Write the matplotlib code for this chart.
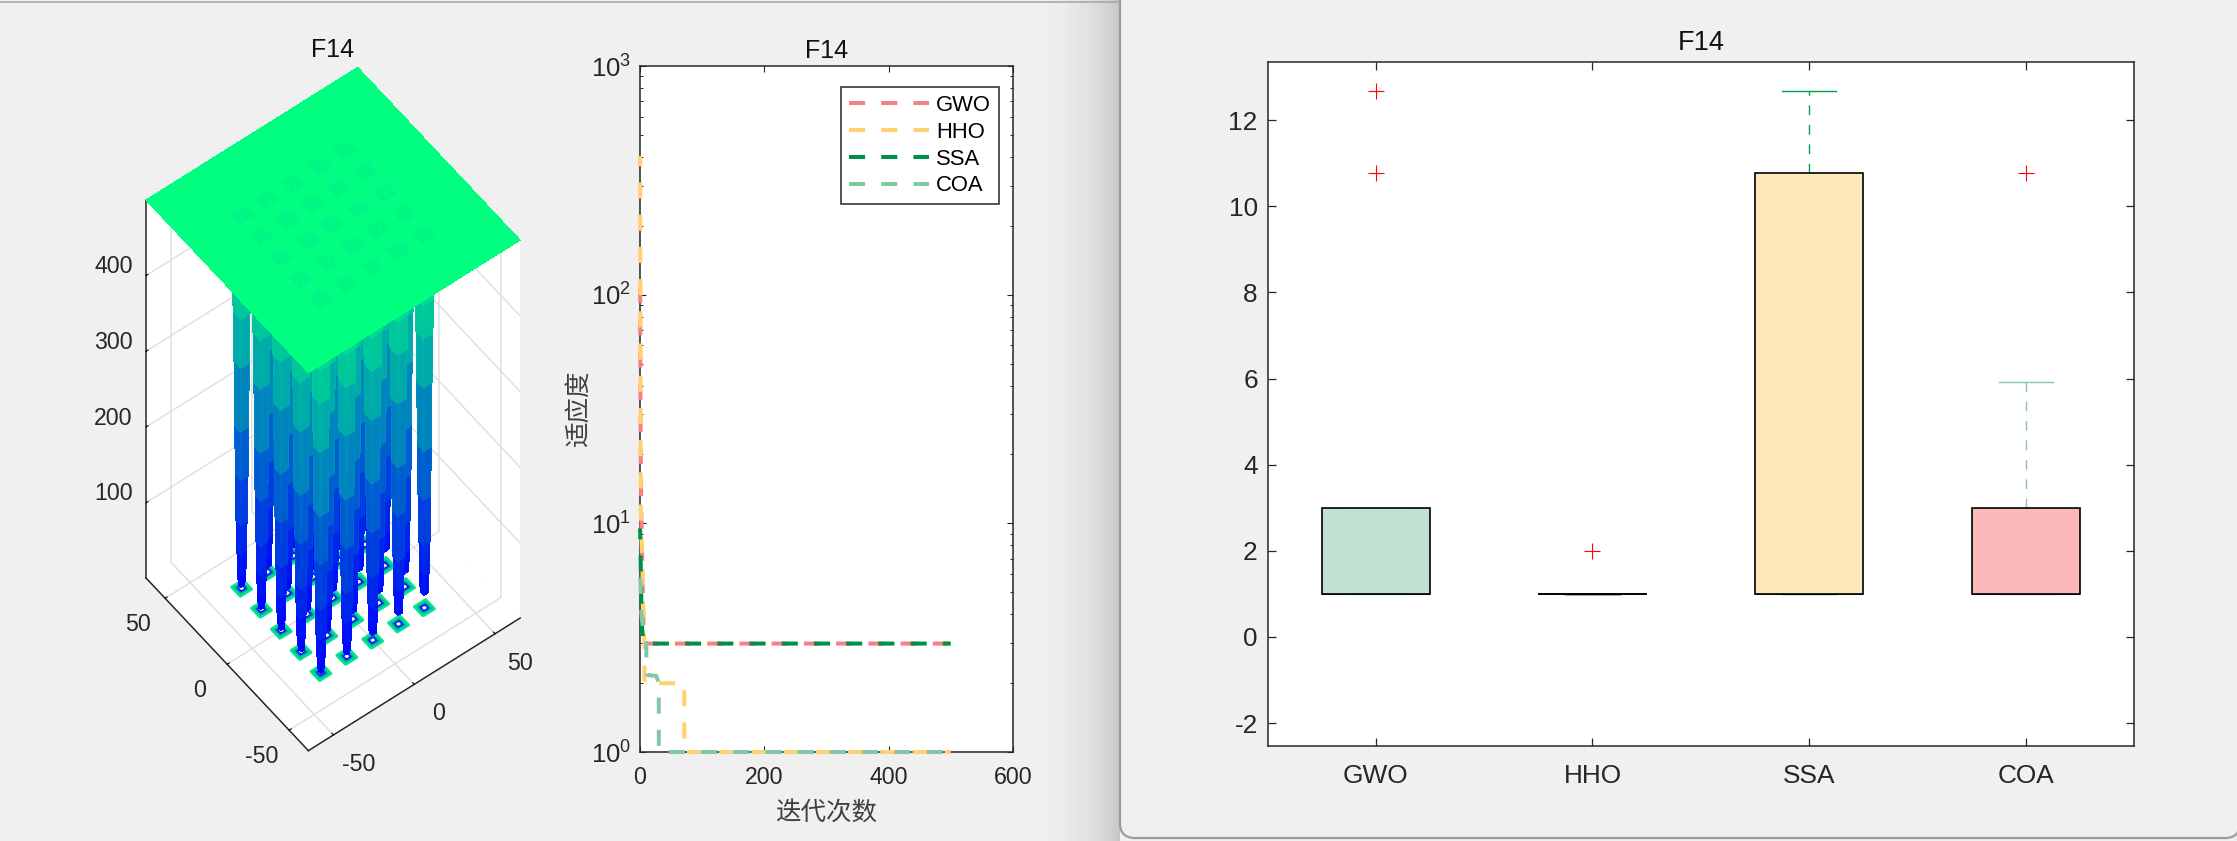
import numpy as np
import matplotlib
matplotlib.use('Agg')
import matplotlib.pyplot as plt
from matplotlib.patches import FancyBboxPatch
from mpl_toolkits.mplot3d import proj3d

plt.rcParams['font.family'] = ['Liberation Sans', 'Noto Sans CJK SC', 'DejaVu Sans']
plt.rcParams['mathtext.default'] = 'regular'
plt.rcParams['mathtext.fontset'] = 'custom'
plt.rcParams['mathtext.rm'] = 'Liberation Sans'
plt.rcParams['axes.unicode_minus'] = False

W, H = 2237, 841
DARK = '#262626'
BG = '#f0f0f0'

well_centres = [-32, -16, 0, 16, 32]
well_offsets = [0, 0.5, 1, 1.25, 1.5, 1.75, 2, 2.25, 2.5, 2.75, 3, 3.25, 3.5, 4, 5, 6, 7]
well_heights = [1, 1.5, 4, 10, 22, 50, 90, 150, 215, 300, 365, 410, 440, 470, 492, 498, 499.5]
well_floor = [[1, 2, 3, 4, 5],
              [6, 7, 8, 9, 10],
              [11, 12, 13, 14, 15],
              [16, 17, 18, 19, 20],
              [21, 22, 23, 24, 25]]
plate_height = 500
surface_lim = 65.536
contour_levels = [26, 60, 100, 150, 200, 250, 300, 350, 400, 450]
xy_ticks = [-50, 0, 50]
z_ticks = [100, 200, 300, 400]

# convergence curves (iteration, fitness)
names = ['GWO', 'HHO', 'SSA', 'COA']
colors = ['#f98080', '#ffd26e', '#008f46', '#82c8a4']
gwo_it = [1, 1.5, 2, 3, 4, 5, 6, 7, 9, 500]
gwo_val = [120, 40, 20, 11, 8, 5.5, 4, 3.3, 2.98, 2.98]
hho_it = [1, 2, 3, 5, 6, 7, 8, 8, 72, 72, 500]
hho_val = [404, 12, 9, 6, 4.5, 3.3, 3, 2, 2, 1, 1]
ssa_it = [1, 2, 3, 4, 6, 8, 500]
ssa_val = [9.5, 6.5, 4.5, 3.5, 3.1, 2.98, 2.98]
coa_it = [1, 2, 3, 8, 11, 11, 13, 27, 31, 31, 500]
coa_val = [6, 5, 4, 3.1, 3, 2.4, 2.17, 2.15, 2, 1, 1]
dash_start_px = [675, 687, 685, 701]  # where a dash begins on each curve's last flat run

# box plot statistics
box_q1 = [1, 1, 1, 1]
box_med = [1, 1, 1, 1]
box_q3 = [3, 1, 10.76, 3]
box_lo = [1, 1, 1, 1]
box_hi = [3, 1, 12.67, 5.93]
box_out = [[10.76, 12.67], [2], [], [10.76]]
box_fill = ['#c0e2d1', 'none', '#fde8ba', '#fab8b9']
whisker_col = ['#c0e2d1', '#000000', '#00a050', '#82c8a4']


def px_rect(left, top, right, bottom):
    return [left / W, 1 - bottom / H, (right - left) / W, (bottom - top) / H]


def label3d(x, y, z, text, ha='center'):
    # 3D tick labels sit off the axis line, so project the spot and write the label on the figure
    px, py, _ = proj3d.proj_transform(x, y, z, ax3.get_proj())
    dx, dy = ax3.transData.transform((px, py))
    fig.text(dx / W, dy / H, text, fontsize=16.7, color=DARK, ha=ha, va='center')


fig = plt.figure(figsize=(W / 100, H / 100), dpi=100, facecolor=BG)

# window background
bg = fig.add_axes([0, 0, 1, 1], zorder=-5)
shade = np.interp(np.arange(1040, 1120), [1040, 1060, 1085, 1105, 1119], [240, 236, 226, 214, 198])
bg.imshow(shade[None, :], cmap='gray', vmin=0, vmax=255, aspect='auto', extent=(1040, 1120, H, 0), zorder=1)
bg.set_xlim(0, W)
bg.set_ylim(H, 0)
bg.axis('off')
bg.plot([0, 1120], [2, 2], color='#a8a8a8', lw=1.2, zorder=2)
bg.add_patch(FancyBboxPatch((1120, -60), W + 3 - 1120, 838 + 60, boxstyle='round,pad=0,rounding_size=15',
                            fc=BG, ec='#9c9c9c', lw=1.6, zorder=3))

# 3D surface
grid_lines = {-surface_lim, surface_lim}
for c in well_centres:
    for o in well_offsets:
        grid_lines.update([c - o, c + o])
for v in np.arange(-64, 65, 4):
    if min(abs(v - c) for c in well_centres) > max(well_offsets):
        grid_lines.add(float(v))
grid = np.array(sorted(grid_lines))
dist = np.abs(grid[:, None] - np.array(well_centres))
nearest = dist.min(axis=1)
which = dist.argmin(axis=1)
X, Y = np.meshgrid(grid, grid)
D = np.maximum(nearest[None, :], nearest[:, None])
Z = np.full(D.shape, float(plate_height))
for o, h in zip(well_offsets, well_heights):
    Z[np.isclose(D, o)] = h
floors = np.array(well_floor, dtype=float)[which[None, :].repeat(len(grid), 0), which[:, None].repeat(len(grid), 1)]
Z = np.where(D <= 1.5, np.maximum(Z, floors), Z)

ax3 = fig.add_axes(px_rect(-43.4, 52.4, 689.6, 785.4), projection='3d', computed_zorder=False)
ax3.patch.set_visible(False)
ax3.set_proj_type('ortho')
ax3.view_init(elev=54.7, azim=-127.5)
ax3.set_box_aspect((1, 1, 2.45))
ax3.set_xlim(-surface_lim, surface_lim)
ax3.set_ylim(-surface_lim, surface_lim)
ax3.set_zlim(1, plate_height)
cmap = plt.get_cmap('winter')
ax3.contour(X, Y, Z, levels=contour_levels, zdir='z', offset=1, cmap=cmap, vmin=1, vmax=plate_height,
            linewidths=1.6, zorder=1)
cell = (Z[:-1, :-1] + Z[1:, :-1] + Z[:-1, 1:] + Z[1:, 1:]) / 4
cell = np.pad(cell, ((0, 1), (0, 1)), mode='edge')
ax3.plot_surface(X, Y, Z, facecolors=cmap((cell - 1) / (plate_height - 1)), rstride=1, cstride=1,
                 linewidth=0, antialiased=False, shade=False, zorder=2)
ax3.set_xticks(xy_ticks)
ax3.set_yticks(xy_ticks)
ax3.set_zticks(z_ticks)
for a in (ax3.xaxis, ax3.yaxis, ax3.zaxis):
    a.set_pane_color((1, 1, 1, 1))
    a.pane.set_edgecolor('white')
    a.line.set_color(DARK)
    a.line.set_linewidth(1.1)
    a._axinfo['grid'].update(color='#dedede', linewidth=1.0)
    a._axinfo['tick'].update(inward_factor=0.0, outward_factor=0.12)
    a._axinfo['tick']['color'] = DARK
    a.set_tick_params(label1On=False, label2On=False)
    a.label.set_visible(False)
    a.offsetText.set_visible(False)
ax3.zaxis.set_ticks_position('upper')
fig.canvas.draw()
for v in xy_ticks:
    label3d(v, -surface_lim - 20, -3, str(v))
    label3d(-surface_lim - 17, v, -10.5, str(v))
for v in z_ticks:
    label3d(-surface_lim - 4.6, surface_lim + 4.6, v + 10, str(v), ha='right')
fig.text(333 / W, 1 - 50 / H, 'F14', fontsize=18, color='#111111', ha='center', va='center')

# convergence curves
ax = fig.add_axes(px_rect(639.5, 66, 1013, 752))
ax.set_yscale('log')
ax.set_xlim(0, 600)
ax.set_ylim(1, 1000)
series = [(gwo_it, gwo_val), (hho_it, hho_val), (ssa_it, ssa_val), (coa_it, coa_val)]
LW = 2.9
lines = []
for (it, val), name, col in zip(series, names, colors):
    line, = ax.plot(it, val, color=col, lw=LW, linestyle=(0, (4, 4)), dash_capstyle='butt', label=name,
                    clip_on=False, zorder=3)
    lines.append(line)
ax.set_xticks([0, 200, 400, 600])
ax.tick_params(which='major', direction='in', length=4.5, width=0.8, top=True, right=True,
               labelsize=16.7, labelcolor=DARK, color=DARK)
ax.tick_params(axis='x', pad=10)
ax.tick_params(axis='y', which='major', pad=6, labelsize=18.5)
ax.tick_params(which='minor', direction='in', length=2.5, width=0.7, right=True, color=DARK)
for s in ax.spines.values():
    s.set_color(DARK)
    s.set_linewidth(1.1)
ax.set_xlabel('迭代次数', fontsize=18.4, color='#404040', labelpad=9)
ax.set_ylabel('适应度', fontsize=18.4, color='#404040', labelpad=0)
ax.set_title('F14', fontsize=18, color='#111111', pad=5.5)
leg = ax.legend(loc='upper left', bbox_to_anchor=((841 - 639.5) / 373.5, 1 - (87 - 66) / 686), fontsize=15.8,
                frameon=True, fancybox=False, framealpha=1, edgecolor=DARK, handlelength=3.65, handletextpad=0.33,
                labelspacing=0.265, borderpad=0.36, borderaxespad=0)
leg.get_frame().set_linewidth(1.1)
leg.set_zorder(5)

# shift each curve's dash phase so its dashes land where they do on the flat runs
period = 8 * LW * 100 / 72
for line, (it, val), x_on in zip(lines, series, dash_start_px):
    pts = ax.transData.transform(np.column_stack([it, val]))
    s = np.hypot(*np.diff(pts[:-1], axis=0).T).sum() + (x_on - pts[-2, 0])
    offset = ((-s) % period) * 72 / 100 / LW
    line.set_linestyle((offset, (4, 4)))

# box plot
axb = fig.add_axes(px_rect(1267.5, 61.5, 2134, 745.5))
stats = [dict(med=m, q1=a, q3=b, whislo=lo, whishi=hi, fliers=f)
         for m, a, b, lo, hi, f in zip(box_med, box_q1, box_q3, box_lo, box_hi, box_out)]
parts = axb.bxp(stats, positions=[1, 2, 3, 4], widths=0.5, capwidths=0.25, patch_artist=True,
                medianprops=dict(color='black', lw=1.2),
                flierprops=dict(marker='+', markeredgecolor='red', markersize=11.5, markeredgewidth=0.8),
                manage_ticks=False)
for i, box in enumerate(parts['boxes']):
    box.set_facecolor(box_fill[i])
    box.set_edgecolor('black')
    box.set_linewidth(1.2)
    box.set_zorder(3)
for i in range(4):
    for line in parts['whiskers'][2 * i:2 * i + 2]:
        line.set(color=whisker_col[i], lw=1.0, linestyle=(0, (7, 7)))
    for line in parts['caps'][2 * i:2 * i + 2]:
        line.set(color=whisker_col[i], lw=1.0)
axb.set_xlim(0.5, 4.5)
axb.set_ylim(-2.52, 13.36)
axb.set_xticks([1, 2, 3, 4])
axb.set_xticklabels(names)
axb.set_yticks(range(-2, 13, 2))
axb.tick_params(direction='in', length=6, width=0.9, top=True, right=True, labelsize=18.9, labelcolor=DARK, color=DARK)
axb.tick_params(axis='x', pad=13)
axb.tick_params(axis='y', pad=7)
for s in axb.spines.values():
    s.set_color(DARK)
    s.set_linewidth(1.1)
axb.set_title('F14', fontsize=19.5, color='#111111', pad=8)

fig.savefig('out.png', dpi=100, facecolor=BG)
